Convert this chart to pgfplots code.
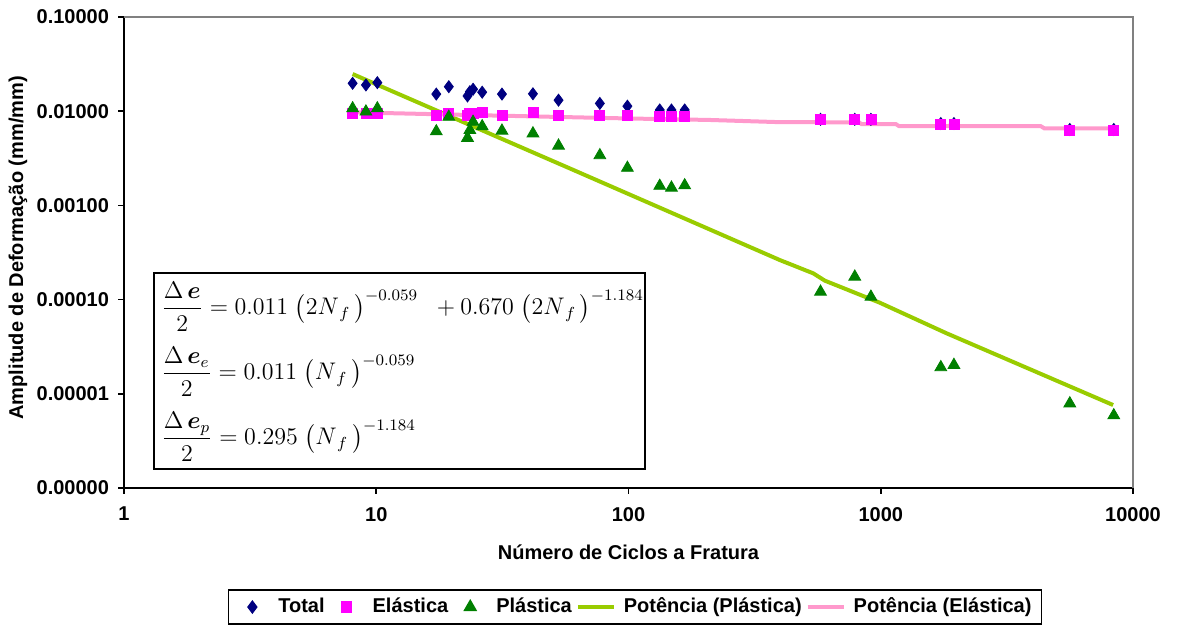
\documentclass[border=0pt]{standalone}
\usepackage{pgfplots}
\pgfplotsset{compat=1.18}
\usepackage{amsmath}
\usepackage{bm}
\usepackage{fontspec}
\setmainfont{Liberation Sans}
\definecolor{navyT}{HTML}{000080}
\definecolor{magE}{HTML}{FF00FF}
\definecolor{greenP}{HTML}{008000}
\definecolor{limeFit}{HTML}{99CC00}
\definecolor{pinkFit}{HTML}{FF99CC}
\definecolor{frameG}{HTML}{808080}

\pgfplotstableread{
N      T        E        P
8.06   0.0198   0.0095   0.0107
9.1    0.0190   0.0095   0.0099
10.1   0.0201   0.0095   0.0107
17.3   0.0152   0.0090   0.0061
19.4   0.0182   0.0095   0.0087
23.0   0.0145   0.0091   0.0052
23.5   0.0161   0.0095   0.0063
24.2   0.0171   0.0095   0.0077
26.3   0.0159   0.0096   0.0069
31.5   0.0152   0.0091   0.0062
41.8   0.0153   0.0096   0.0058
52.8   0.0131   0.0091   0.0043
77     0.0121   0.0091   0.0034
99     0.0113   0.0091   0.0025
133    0.0103   0.0089   0.00161
148    0.0103   0.0089   0.00154
167    0.0103   0.0089   0.00163
577    0.0082   0.0081   0.000121
789    0.0082   0.0081   0.000175
914    0.0082   0.0081   0.000107
1730   0.0074   0.0073   0.0000191
1950   0.0074   0.0073   0.0000202
5616   0.0064   0.0063   0.0000079
8390   0.0064   0.0063   0.0000059
}\datatable

\pgfplotstableread{
N      P
8.06   0.0248
60.4   0.00238
398    0.000263
540    0.000190
600    0.000159
991    0.0000927
1823   0.0000439
8337   0.0000076
}\fitP

\pgfplotstableread{
N      E
8.06   0.00973
30     0.00898
100    0.00837
210    0.00807
398    0.00765
820    0.00762
840    0.00727
1150   0.00727
1180   0.00696
4300   0.00696
4450   0.00658
8337   0.00658
}\fitE

\pgfplotsset{
  wideimg/.style={legend image code/.code={\draw[##1] plot coordinates {(0pt,0pt) (18pt,0pt)};}},
  markimg/.style={legend image code/.code={\path[draw=none,fill=none] (0pt,-1pt) rectangle (18pt,1pt);\draw[##1, only marks] plot coordinates {(9pt,0pt)};}}
}

\begin{document}
\begin{tikzpicture}
\useasboundingbox (0pt,0pt) rectangle (588.5pt,312.5pt);
\begin{axis}[
  at={(62pt,68.5pt)}, anchor=south west,
  scale only axis, width=504.5pt, height=235.5pt,
  xmode=log, ymode=log,
  xmin=1, xmax=10000, ymin=1e-6, ymax=0.1,
  axis x line*=bottom, axis y line*=left,
  axis line style={black, line width=0.8pt, -},
  xtick={1,10,100,1000,10000},
  xticklabels={1,10,100,1000,10000},
  ytick={1e-6,1e-5,1e-4,1e-3,1e-2,1e-1},
  yticklabels={0.00000,0.00001,0.00010,0.00100,0.01000,0.10000},
  xminorticks=false, yminorticks=false,
  tick align=outside, major tick length=3pt,
  tick style={black, line width=0.8pt},
  ticklabel style={font=\bfseries\fontsize{10}{12}\selectfont},
  xticklabel style={yshift=-3pt},
  yticklabel style={xshift=-1pt},
  xlabel={Número de Ciclos a Fratura},
  ylabel={Amplitude de Deformação (mm/mm)},
  label style={font=\bfseries\fontsize{10}{12}\selectfont},
  xlabel style={at={(axis description cs:0.5,-0.1359)}, anchor=center},
  ylabel style={at={(axis description cs:-0.1051,0.51)}, anchor=center},
  clip=false,
  legend columns=5,
  legend style={at={(axis description cs:0.5064,-0.2527)}, anchor=center,
    draw=black, line width=0.6pt, font=\bfseries\fontsize{10}{12}\selectfont,
    inner xsep=3pt, inner ysep=2pt,
    /tikz/every odd column/.append style={column sep=2pt},
    /tikz/every even column/.append style={column sep=0pt}},
  legend cell align=left,
]
\draw[frameG, line width=0.8pt] (rel axis cs:0,1) -- (rel axis cs:1,1) -- (rel axis cs:1,0);
\addplot[only marks, markimg, mark=diamond*, mark size=3pt, color=navyT] table[x=N, y=T] {\datatable};
\addlegendentry{Total}
\addplot[only marks, markimg, mark=square*, mark size=2.5pt, color=magE, mark options={fill=magE}] table[x=N, y=E] {\datatable};
\addlegendentry{Elástica}
\addplot[only marks, markimg, mark=triangle*, mark size=3.4pt, color=greenP] table[x=N, y=P] {\datatable};
\addlegendentry{Plástica}
\addplot[limeFit, wideimg, line width=2pt, no marks] table[x=N, y=P] {\fitP};
\addlegendentry{Potência (Plástica)}
\addplot[pinkFit, wideimg, line width=2pt, no marks] table[x=N, y=E] {\fitE};
\addlegendentry{Potência (Elástica)}
\node[draw=black, line width=0.9pt, fill=white, anchor=north west,
      minimum width=245.5pt, minimum height=98pt, inner sep=0pt]
  at (rel axis cs:0.0287,0.4586) {};
\begin{scope}[every node/.style={anchor=west, inner sep=0pt, font=\fontsize{11.6}{13}\selectfont}]
\node at (rel axis cs:0.0367,0.3849)
  {$\dfrac{\Delta\,\bm{e}}{2} = 0.011\;\bigl(2N_{\,f}\,\bigr)^{-0.059}\;\;+ 0.670\;\bigl(2N_{\,f}\,\bigr)^{-1.184}$};
\node at (rel axis cs:0.0367,0.2469)
  {$\dfrac{\Delta\,\bm{e}_{e}}{2} = 0.011\;\bigl(N_{\,f}\,\bigr)^{-0.059}$};
\node at (rel axis cs:0.0367,0.1089)
  {$\dfrac{\Delta\,\bm{e}_{p}}{2} = 0.295\;\bigl(N_{\,f}\,\bigr)^{-1.184}$};
\end{scope}
\end{axis}
\end{tikzpicture}
\end{document}
